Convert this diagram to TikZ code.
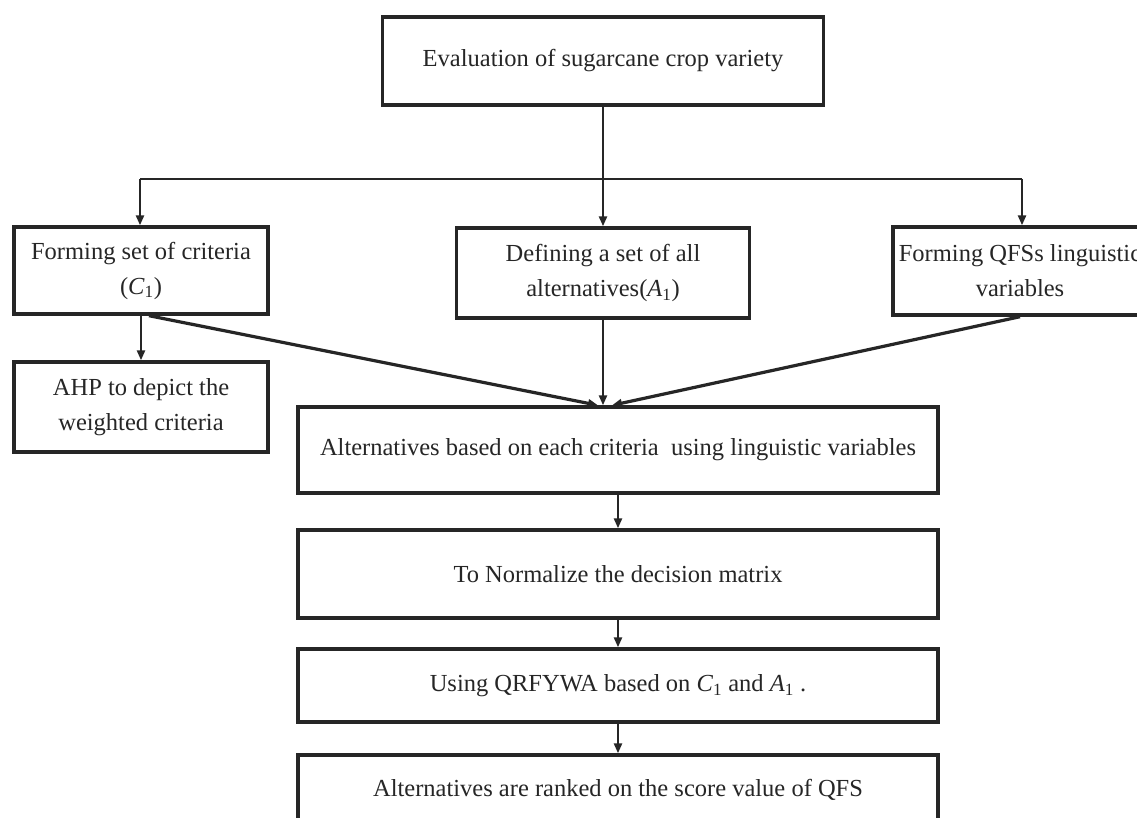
\documentclass[tikz,border=0pt]{standalone}
\usepackage{fontspec}
\setmainfont{Liberation Serif}
\usetikzlibrary{arrows.meta,positioning,calc}
\tikzset{
  box/.style={draw=black!85, line width=3.4pt, rectangle, fill=white, align=center,
     inner sep=2pt, text=black!85, font=\fontsize{24.5}{35}\selectfont},
  conn/.style={draw=black!85, line width=2.4pt},
  arr/.style={conn, -{Triangle[length=10pt,width=8pt]}},
  darr/.style={draw=black!85, line width=3.2pt, -{Triangle[length=10pt,width=8pt]}}
}
\newcommand\subi[1]{\textsubscript{#1}}
\begin{document}
\begin{tikzpicture}[x=1pt,y=-1pt]
\useasboundingbox (0,0) rectangle (1137,818);
\fill[white] (0,0) rectangle (1137,818);
% boxes
\node[box, minimum width=441pt, minimum height=88pt] (top) at (603,61) {\raisebox{-8pt}{Evaluation of sugarcane crop variety}};
\node[box, minimum width=254pt, minimum height=87pt] (left) at (141,270.5) {Forming set of criteria\\(\textit{C}\subi{1})};
\node[box, minimum width=293pt, minimum height=90pt] (mid) at (603,273) {Defining a set of all\\alternatives(\textit{A}\subi{1})};
\node[box, minimum width=254pt, minimum height=88pt] (right) at (1020,271) {Forming QFSs linguistic\\variables};
\node[box, minimum width=254pt, minimum height=90pt] (ahp) at (141,407) {AHP to depict the\\weighted criteria};
\node[box, minimum width=640pt, minimum height=86pt] (big) at (618,450) {Alternatives based on each criteria\ \ using linguistic variables};
\node[box, minimum width=640pt, minimum height=88pt] (norm) at (618,574) {To Normalize the decision matrix};
\node[box, minimum width=640pt, minimum height=73pt] (qrf) at (618,685.5) {Using QRFYWA based on \textit{C}\subi{1} and \textit{A}\subi{1} .};
\node[box, minimum width=640pt, minimum height=70pt] (last) at (618,790) {Alternatives are ranked on the score value of QFS};
% connectors
\coordinate (j) at (603,179);
\coordinate (hl) at (140,179);
\coordinate (hr) at (1022,179);
\draw[conn] (top.south) -- (j);
\draw[conn] (hl) -- (hr);
\draw[arr] (j) -- (mid.north);
\draw[arr] (hl) -- (hl |- left.north);
\draw[arr] (hr) -- (hr |- right.north);
\draw[arr] (left.south) -- (ahp.north);
\draw[darr] ([xshift=8pt]left.south) -- ([xshift=-20pt]big.north);
\draw[arr] (mid.south) -- (mid.south |- big.north);
\draw[darr] (right.south) -- ([xshift=-6pt]big.north);
\draw[arr] (big.south) -- (norm.north);
\draw[arr] (norm.south) -- (qrf.north);
\draw[arr] (qrf.south) -- (last.north);
\end{tikzpicture}
\end{document}
